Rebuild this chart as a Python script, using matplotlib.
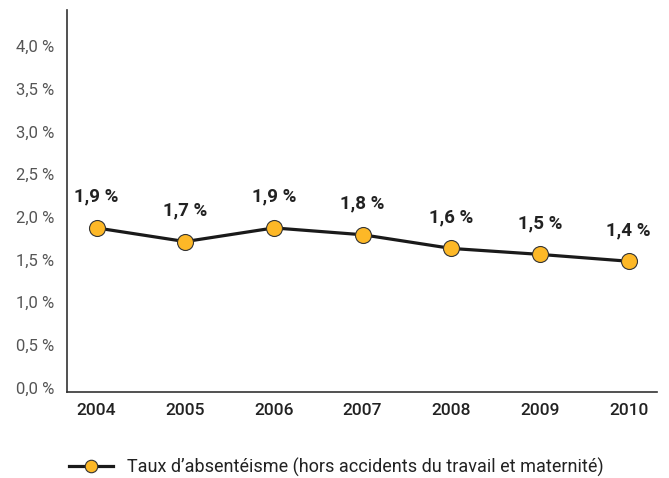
import matplotlib.pyplot as plt
from matplotlib.lines import Line2D

years = ['2004', '2005', '2006', '2007', '2008', '2009', '2010']
values = [1.87, 1.71, 1.87, 1.79, 1.63, 1.56, 1.48]
labels = ['1,9 %', '1,7 %', '1,9 %', '1,8 %', '1,6 %', '1,5 %', '1,4 %']
yticks = [0, 0.5, 1.0, 1.5, 2.0, 2.5, 3.0, 3.5, 4.0]
ytick_labels = ['0,0 %', '0,5 %', '1,0 %', '1,5 %', '2,0 %', '2,5 %', '3,0 %', '3,5 %', '4,0 %']
series_name = "Taux d\u2019absent\u00e9isme (hors accidents du travail et maternit\u00e9)"

line_color = '#1a1a1a'
dot_color = '#fdb827'

plt.rcParams['font.family'] = ['Roboto', 'DejaVu Sans']

fig = plt.figure(figsize=(6.69, 4.78), dpi=100)
ax = fig.add_axes([0.100, 0.180, 0.882, 0.799])

x = list(range(len(years)))
ax.plot(x, values, color=line_color, linewidth=2.3, marker='o', markersize=11.5,
        markerfacecolor=dot_color, markeredgecolor='#333333', markeredgewidth=0.8,
        zorder=3)

for xi, v, lab in zip(x, values, labels):
    ax.annotate(lab, (xi, v), xytext=(0, 16), textcoords='offset points',
                ha='center', va='bottom', fontsize=13.5, fontweight='bold', color='#222222')

ax.set_xlim(-0.335, 6.32)
ax.set_ylim(-0.05, 4.42)
ax.set_xticks(x)
ax.set_xticklabels(years, fontsize=12.5, color='#222222', fontweight='medium')
ax.set_yticks(yticks)
ax.set_yticklabels(ytick_labels, fontsize=12, color='#555555')
ax.tick_params(axis='both', length=0)
ax.tick_params(axis='y', pad=9)
ax.tick_params(axis='x', pad=8)

for s in ['top', 'right']:
    ax.spines[s].set_visible(False)
for s in ['left', 'bottom']:
    ax.spines[s].set_color('#333333')
    ax.spines[s].set_linewidth(1.2)

handle = Line2D([], [], color=line_color, linewidth=2.3, marker='o', markersize=9,
                markerfacecolor=dot_color, markeredgecolor='#333333', markeredgewidth=0.8)
fig.legend([handle], [series_name], loc='center left', bbox_to_anchor=(0.079, 0.022),
           frameon=False, fontsize=13, handlelength=2.45, handletextpad=0.75,
           labelcolor='#222222')

fig.savefig('out.png', dpi=100)
